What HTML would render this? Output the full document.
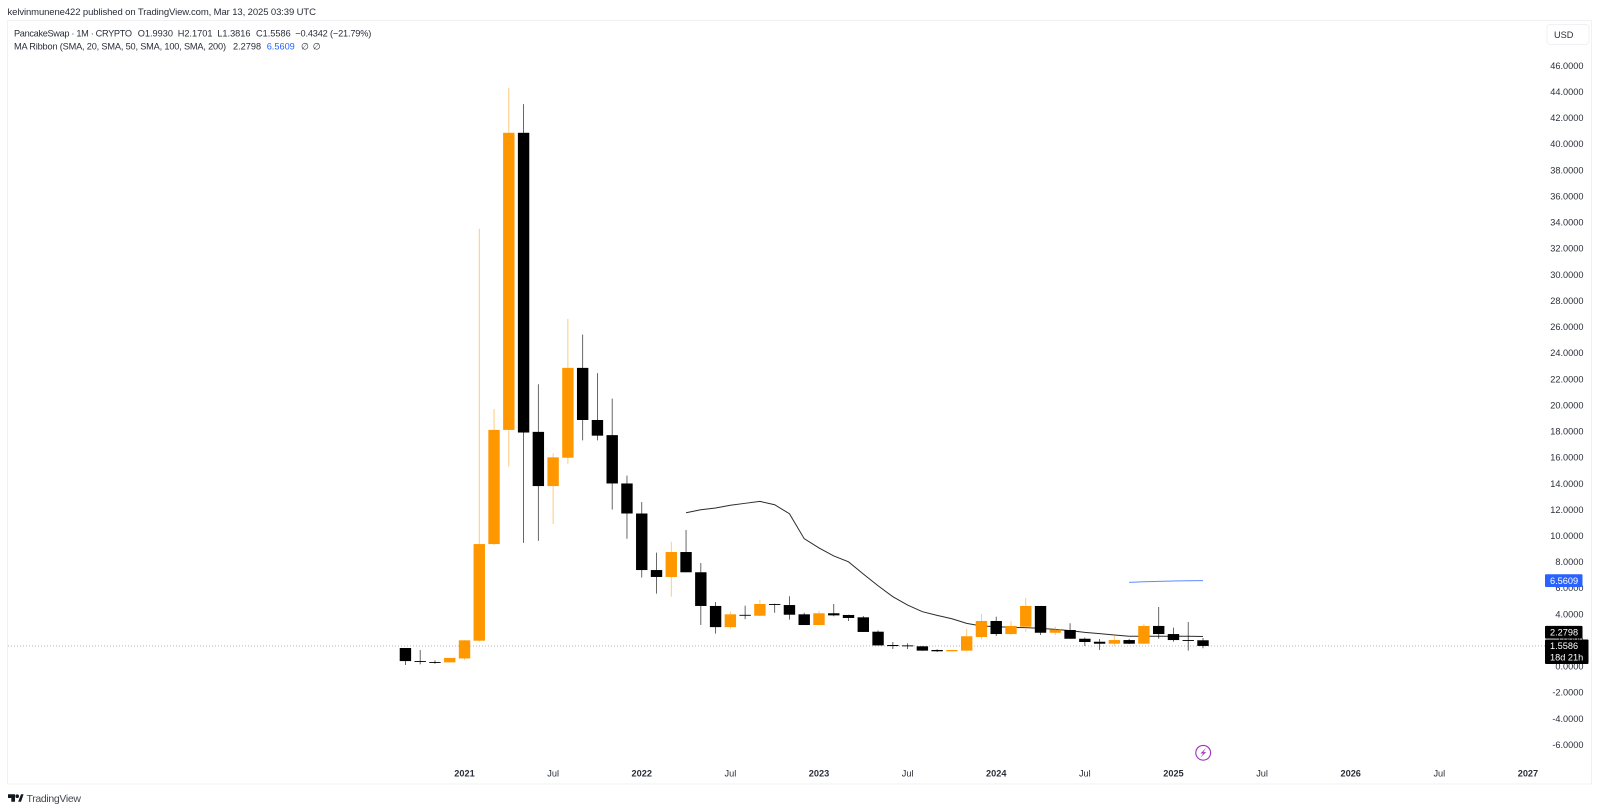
<!DOCTYPE html>
<html lang="en">
<head>
<meta charset="utf-8">
<title>PancakeSwap 1M chart</title>
<style>
html,body{margin:0;padding:0;background:#fff;width:1600px;height:812px;overflow:hidden}
svg{display:block}
text{font-family:"Liberation Sans",sans-serif;fill:#2a2e39}
</style>
</head>
<body>
<svg id="chart" xmlns="http://www.w3.org/2000/svg" width="1600" height="812" viewBox="0 0 1600 812">
  <rect x="0" y="0" width="1600" height="812" fill="#ffffff"/>
  <rect x="7.5" y="20.5" width="1584" height="763.5" fill="none" stroke="#f1f1f3" stroke-width="1"/>
  <text x="7.5" y="15" font-size="9.5" textLength="308.5" lengthAdjust="spacing">kelvinmunene422 published on TradingView.com, Mar 13, 2025 03:39 UTC</text>
  <g id="legend" font-size="9.2">
    <text x="14" y="36.5" font-size="9.2" textLength="118" lengthAdjust="spacing">PancakeSwap · 1M · CRYPTO</text>
    <text x="137.7" y="36.5" font-size="9.2">O1.9930</text>
    <text x="177.7" y="36.5" font-size="9.2">H2.1701</text>
    <text x="217.3" y="36.5" font-size="9.2">L1.3816</text>
    <text x="256" y="36.5" font-size="9.2">C1.5586</text>
    <text x="295.3" y="36.5" font-size="9.2" textLength="76" lengthAdjust="spacing">−0.4342 (−21.79%)</text>
    <text x="14" y="49.5" font-size="9.2" textLength="212" lengthAdjust="spacing">MA Ribbon (SMA, 20, SMA, 50, SMA, 100, SMA, 200)</text>
    <text x="233" y="49.5" font-size="9.2">2.2798</text>
    <text x="266.7" y="49.5" font-size="9.2" style="fill:#2962ff">6.5609</text>
    <text x="301" y="49.5" font-size="9.2">∅</text>
    <text x="312.7" y="49.5" font-size="9.2">∅</text>
  </g>
  <g id="gridless-price-line"></g>
  <g id="ma-lines"></g>
  <g id="candles"></g>
  <g id="y-axis"></g>
  <g id="x-axis"></g>
  <g id="price-tags"></g>
  <g>
    <rect x="1547" y="24.5" width="42" height="20" rx="3" fill="#ffffff" stroke="#f0f1f4"/>
    <text x="1554" y="38" font-size="9.2">USD</text>
  </g>
  <g>
    <circle cx="1203.2" cy="752.8" r="7.4" fill="#ffffff" stroke="#a32fc0" stroke-width="1.1"/>
    <path d="M1206.2 747.8 L1200.4 753.6 L1203.4 753.4 L1200.2 757.8 L1206.2 752 L1203.2 752.2 Z" fill="#a32fc0"/>
  </g>
  <g>
    <path d="M8 794.3 H15 V801.7 H11.3 V798 H8 Z M18.2 801.7 L21 794.3 H23.6 L21 801.7 Z" fill="#131722"/>
    <circle cx="17.2" cy="796.2" r="1.8" fill="#131722"/>
    <text x="26.5" y="802" font-size="10.5" textLength="54.5" lengthAdjust="spacing" style="fill:#444750">TradingView</text>
  </g>
</svg>
<script>
// Candle data, months since 2020-09
const months = ["2020-09","2020-10","2020-11","2020-12","2021-01","2021-02","2021-03","2021-04","2021-05","2021-06","2021-07","2021-08","2021-09","2021-10","2021-11","2021-12","2022-01","2022-02","2022-03","2022-04","2022-05","2022-06","2022-07","2022-08","2022-09","2022-10","2022-11","2022-12","2023-01","2023-02","2023-03","2023-04","2023-05","2023-06","2023-07","2023-08","2023-09","2023-10","2023-11","2023-12","2024-01","2024-02","2024-03","2024-04","2024-05","2024-06","2024-07","2024-08","2024-09","2024-10","2024-11","2024-12","2025-01","2025-02","2025-03"];
const opens = [1.4,0.4,0.33,0.3,0.6,1.96,9.36,18.1,40.85,17.95,13.8,15.97,22.85,18.86,17.7,14.0,11.7,7.37,6.84,8.75,7.2,4.62,3.0,3.94,3.87,4.77,4.69,3.98,3.16,4.06,3.93,3.75,2.65,1.63,1.6,1.53,1.25,1.15,1.2,2.24,3.47,2.47,3.03,4.62,2.57,2.78,2.11,1.88,1.73,2.01,1.73,3.09,2.47,2.01,1.993];
const highs = [1.4,1.25,0.45,0.66,2.0,33.5,19.7,44.3,43.05,21.6,16.3,26.6,25.4,22.45,20.5,14.6,12.58,8.7,9.54,10.44,7.91,4.92,4.2,4.64,5.08,4.8,5.36,4.1,4.23,4.77,3.95,3.85,2.75,1.86,1.76,1.55,1.3,1.27,2.86,4.0,3.8,3.47,5.23,4.62,3.03,3.3,2.2,2.09,2.32,2.09,3.24,4.54,2.96,3.39,2.1701];
const lows = [0.1,0.15,0.2,0.28,0.48,1.9,9.3,15.3,9.45,9.6,10.9,15.5,17.3,17.3,12.0,9.77,6.8,5.56,5.33,7.2,3.16,2.5,2.88,3.61,3.85,4.1,3.57,3.16,3.16,3.83,3.47,2.63,1.6,1.32,1.32,1.18,1.09,1.12,1.15,2.07,2.32,2.4,2.63,2.4,2.4,2.11,1.55,1.25,1.55,1.7,1.7,2.11,1.88,1.2,1.3816];
const closes = [0.4,0.35,0.27,0.64,1.99,9.36,18.1,40.85,17.9,13.8,16.0,22.85,18.86,17.66,14.0,11.7,7.37,6.84,8.75,7.2,4.62,3.0,3.98,3.88,4.77,4.7,3.95,3.16,4.06,3.9,3.7,2.63,1.6,1.55,1.55,1.2,1.15,1.25,2.3,3.47,2.47,3.09,4.62,2.57,2.8,2.11,1.86,1.73,2.01,1.73,3.09,2.47,2.01,1.99,1.5586];
// Moving averages; each series starts at the named month
const sma20StartMonth = "2022-04";
const sma20Values = [11.76,11.99,12.12,12.33,12.48,12.63,12.37,11.68,9.77,9.06,8.45,8.0,7.07,6.17,5.33,4.69,4.18,3.9,3.64,3.29,3.09,3.04,2.98,2.96,2.9,2.83,2.73,2.6,2.5,2.4,2.3,2.3,2.3,2.3,2.3,2.2798];
const sma50StartMonth = "2024-10";
const sma50Values = [6.43,6.47,6.5,6.53,6.55,6.5609];
// Axis labels
const priceTicks = [46,44,42,40,38,36,34,32,30,28,26,24,22,20,18,16,14,12,10,8,6,4,2,0,-2,-4,-6];
const timeLabels = ["2021","Jul","2022","Jul","2023","Jul","2024","Jul","2025","Jul","2026","Jul","2027"];
const timeLabelMonths = ["2021-01","2021-07","2022-01","2022-07","2023-01","2023-07","2024-01","2024-07","2025-01","2025-07","2026-01","2026-07","2027-01"];
const lastClose = 1.5586;
const sma20Last = 2.2798;
const sma50Last = 6.5609;
const countdownLabel = "18d 21h";

const NS = "http://www.w3.org/2000/svg";
function monthIndex(m){
  const p = m.split("-");
  return (parseInt(p[0],10)-2021)*12 + parseInt(p[1],10)-1;
}
function xAt(i){ return 464.5 + 14.77*i; }
function xOfMonth(m){ return xAt(monthIndex(m)); }
function yOf(v){ return 666.3 - 13.06*v; }
function make(tag, attrs, parent){
  const el = document.createElementNS(NS, tag);
  for (const k in attrs) el.setAttribute(k, attrs[k]);
  parent.appendChild(el);
  return el;
}
function fmt(v){
  return (v < 0 ? "-" : "") + Math.abs(v).toFixed(4);
}

// Last price dotted line
const priceLineGroup = document.getElementById("gridless-price-line");
const priceLine = make("line", {x1:8, x2:1545, y1:yOf(lastClose), y2:yOf(lastClose), stroke:"#b4b7bd", "stroke-width":1, "stroke-dasharray":"1 2"}, priceLineGroup);



// MA lines
function linePoints(values, startMonth){
  const start = monthIndex(startMonth);
  return values.map(function(v, k){ return xAt(start+k).toFixed(2)+","+yOf(v).toFixed(2); }).join(" ");
}
const maGroup = document.getElementById("ma-lines");
const sma20Line = make("polyline", {points:linePoints(sma20Values, sma20StartMonth), fill:"none", stroke:"#2b2b2b", "stroke-width":1}, maGroup);


const sma50Line = make("polyline", {points:linePoints(sma50Values, sma50StartMonth), fill:"none", stroke:"#5c8aff", "stroke-width":1}, maGroup);



// Candles
const candleGroup = document.getElementById("candles");
months.forEach(function(m, k){
  const cx = xOfMonth(m);
  const up = closes[k] >= opens[k];
  const color = up ? "#ff9800" : "#000000";
  const group = make("g", {}, candleGroup);
  
  
  const wick = make("line", {x1:cx, x2:cx, y1:yOf(highs[k]), y2:yOf(lows[k]), stroke:color, "stroke-width":0.85, "stroke-opacity":up ? 0.6 : 0.7}, group);
  
  
  const top = yOf(Math.max(opens[k], closes[k]));
  const bottom = yOf(Math.min(opens[k], closes[k]));
  const body = make("rect", {x:cx-5.7, width:11.4, y:top, height:Math.max(bottom-top, 0.9), fill:color}, group);
  
  
});

// Price axis
const yAxisGroup = document.getElementById("y-axis");
priceTicks.forEach(function(v){
  const t = make("text", {x:1583.5, y:yOf(v)+3.3, "text-anchor":"end", "font-size":9.2}, yAxisGroup);
  t.textContent = fmt(v);
  
  
});

// Time axis
const xAxisGroup = document.getElementById("x-axis");
timeLabels.forEach(function(label, k){
  const isYear = label !== "Jul";
  const t = make("text", {x:xOfMonth(timeLabelMonths[k]), y:776.5, "text-anchor":"middle", "font-size":9.2, "font-weight":isYear ? "bold" : "normal"}, xAxisGroup);
  t.textContent = label;
  
  
});

// Price tags: a tag that would collide with the last-price tag is pushed above it
const tagGroup = document.getElementById("price-tags");
function tag(value, color, name){
  const cy = Math.min(yOf(value), yOf(lastClose) - 13.7);
  const box = make("rect", {x:1545, y:cy-6.4, width:37.5, height:12.8, fill:color, rx:1}, tagGroup);
  
  
  const t = make("text", {x:1550, y:cy+3.3, "font-size":9.2, style:"fill:#ffffff"}, tagGroup);
  t.textContent = value.toFixed(4);
  
  
}
tag(sma50Last, "#2962ff", "sma-50");
tag(sma20Last, "#000000", "sma-20");
const lastBox = make("rect", {x:1545, y:yOf(lastClose)-6.4, width:43.5, height:24.4, fill:"#000000", rx:1}, tagGroup);


const lastText = make("text", {x:1550, y:yOf(lastClose)+3.3, "font-size":9.2, style:"fill:#ffffff"}, tagGroup);
lastText.textContent = lastClose.toFixed(4);


const countdownText = make("text", {x:1550, y:yOf(lastClose)+14.5, "font-size":9.2, style:"fill:#ffffff"}, tagGroup);
countdownText.textContent = countdownLabel;


</script>
</body>
</html>
